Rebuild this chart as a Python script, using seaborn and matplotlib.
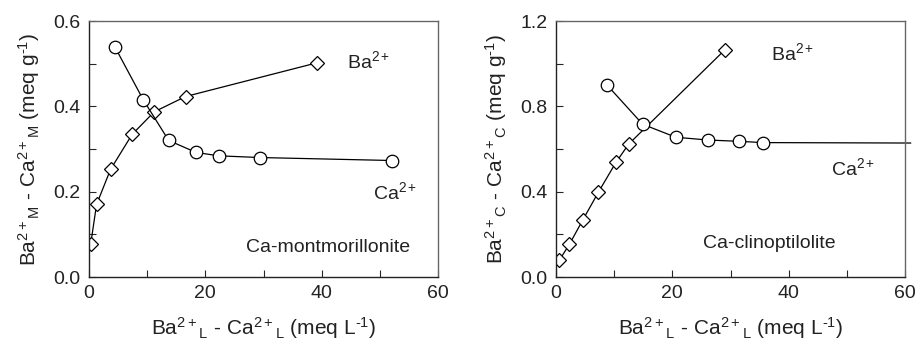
import numpy as np
import pandas as pd
import matplotlib
matplotlib.use("Agg")
import matplotlib.pyplot as plt
import seaborn as sns
from matplotlib.ticker import MultipleLocator, FixedLocator

sns.set_style("ticks")
plt.rcParams['font.family'] = ['Liberation Sans', 'DejaVu Sans']
plt.rcParams['mathtext.fontset'] = 'custom'
plt.rcParams['mathtext.rm'] = 'Liberation Sans'
plt.rcParams['mathtext.it'] = 'Liberation Sans'

# Ca-montmorillonite
mont_ba_x = [0.3, 1.3, 3.7, 7.4, 11.2, 16.6, 39.2]
mont_ba_y = [0.078, 0.170, 0.252, 0.334, 0.387, 0.423, 0.502]
mont_ca_x = [4.5, 9.3, 13.7, 18.4, 22.3, 29.4, 52.1]
mont_ca_y = [0.538, 0.416, 0.320, 0.292, 0.284, 0.280, 0.273]

# Ca-clinoptilolite
clin_ba_x = [0.6, 2.3, 4.6, 7.3, 10.3, 12.5, 29.0]
clin_ba_y = [0.080, 0.153, 0.267, 0.398, 0.537, 0.623, 1.064]
clin_ca_x = [8.7, 14.9, 20.6, 26.2, 31.5, 35.6]
clin_ca_y = [0.902, 0.716, 0.655, 0.642, 0.636, 0.630]
clin_ca_tail = (61.0, 0.628)   # line runs on past the frame

W, H = 916, 341
fig = plt.figure(figsize=(W / 100, H / 100), dpi=100)
ax1 = fig.add_axes([89 / W, 64 / H, 349 / W, 256 / H])
ax2 = fig.add_axes([556 / W, 64 / H, 349 / W, 256 / H])

line_kw = dict(color='black', linewidth=0.9, markerfacecolor='white',
               markeredgecolor='black', markeredgewidth=0.9, sort=False)


def draw(ax, bx, by, cx, cy):
    sns.lineplot(x=bx, y=by, marker='D', markersize=7, ax=ax, **line_kw)
    sns.lineplot(x=cx, y=cy, marker='o', markersize=9, ax=ax, **line_kw)


draw(ax1, mont_ba_x, mont_ba_y, mont_ca_x, mont_ca_y)
draw(ax2, clin_ba_x, clin_ba_y, clin_ca_x, clin_ca_y)
ax2.plot([clin_ca_x[-1], clin_ca_tail[0]], [clin_ca_y[-1], clin_ca_tail[1]],
         color='black', linewidth=0.9, clip_on=False, zorder=1)

ylabels = [r'Ba$^{2+}{}_{\rm M}$ - Ca$^{2+}{}_{\rm M}$ (meq g$^{\text{-}1}$)',
           r'Ba$^{2+}{}_{\rm C}$ - Ca$^{2+}{}_{\rm C}$ (meq g$^{\text{-}1}$)']
xlabel = r'Ba$^{2+}{}_{\rm L}$ - Ca$^{2+}{}_{\rm L}$ (meq L$^{\text{-}1}$)'

for ax, ymax, ylab in [(ax1, 0.6, ylabels[0]), (ax2, 1.2, ylabels[1])]:
    ax.set_xlim(0, 60)
    ax.set_ylim(0, ymax)
    ax.xaxis.set_major_locator(FixedLocator([0, 20, 40, 60]))
    ax.xaxis.set_minor_locator(FixedLocator([10, 30, 50]))
    ax.yaxis.set_major_locator(MultipleLocator(ymax / 3))
    ax.yaxis.set_minor_locator(MultipleLocator(ymax / 6))
    ax.yaxis.set_major_formatter(matplotlib.ticker.FormatStrFormatter('%.1f'))
    ax.tick_params(which='both', direction='in', length=5, width=0.8,
                   labelsize=14, pad=6, top=False, right=False,
                   labelcolor='#222222')
    for s in ['left', 'bottom']:
        ax.spines[s].set_color('#222222')
        ax.spines[s].set_linewidth(1.0)
    for s in ['top', 'right']:
        ax.spines[s].set_visible(True)
        ax.spines[s].set_color('#666666')
        ax.spines[s].set_linewidth(1.0)
    ax.set_xlabel(xlabel, fontsize=15, labelpad=9, color='#222222')
    ax.set_ylabel(ylab, fontsize=15, labelpad=8, color='#222222')

txt = dict(fontsize=14, va='center', color='#222222')
ax1.text(44.4, 0.506, r'Ba$^{2+}$', **txt)
ax1.text(48.8, 0.199, r'Ca$^{2+}$', **txt)
ax1.text(41.1, 0.068, 'Ca-montmorillonite', ha='center', **txt)

ax2.text(37.0, 1.05, r'Ba$^{2+}$', **txt)
ax2.text(47.3, 0.511, r'Ca$^{2+}$', **txt)
ax2.text(36.6, 0.159, 'Ca-clinoptilolite', ha='center', **txt)

fig.savefig('out.png', dpi=100)
